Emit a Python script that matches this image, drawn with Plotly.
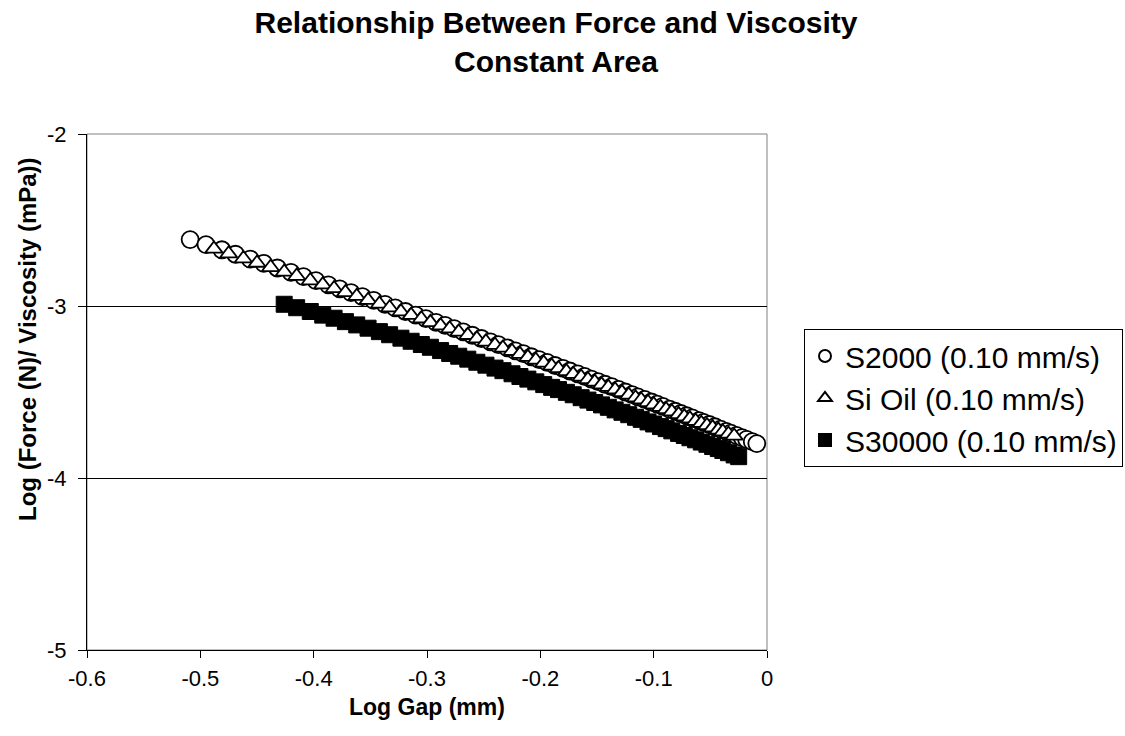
import plotly.graph_objects as go

# ---------------- data ----------------
s2000_x = [-0.509, -0.495, -0.481, -0.469, -0.456, -0.444, -0.432, -0.420, -0.409, -0.398,
           -0.387, -0.377, -0.367, -0.357, -0.347, -0.337, -0.328, -0.319, -0.310, -0.301,
           -0.292, -0.284, -0.276, -0.268, -0.260, -0.252, -0.244, -0.237, -0.229, -0.222,
           -0.215, -0.208, -0.201, -0.194, -0.187, -0.180, -0.174, -0.167, -0.161, -0.155,
           -0.149, -0.143, -0.137, -0.131, -0.125, -0.119, -0.114, -0.108, -0.102, -0.097,
           -0.092, -0.086, -0.081, -0.076, -0.071, -0.066, -0.060, -0.056, -0.051, -0.046,
           -0.041, -0.036, -0.032, -0.027, -0.022, -0.018, -0.013, -0.009]
s2000_y = [-2.614, -2.643, -2.673, -2.699, -2.727, -2.752, -2.779, -2.805, -2.829, -2.853,
           -2.877, -2.900, -2.922, -2.945, -2.967, -2.990, -3.011, -3.032, -3.053, -3.073,
           -3.095, -3.113, -3.132, -3.151, -3.170, -3.189, -3.208, -3.224, -3.244, -3.261,
           -3.277, -3.295, -3.312, -3.328, -3.346, -3.363, -3.378, -3.395, -3.409, -3.425,
           -3.440, -3.455, -3.469, -3.485, -3.500, -3.515, -3.528, -3.543, -3.558, -3.571,
           -3.584, -3.599, -3.612, -3.625, -3.638, -3.651, -3.666, -3.677, -3.689, -3.702,
           -3.716, -3.729, -3.739, -3.752, -3.765, -3.776, -3.789, -3.800]

sioil_x = [-0.488, -0.475, -0.462, -0.450, -0.438, -0.426, -0.415, -0.403, -0.392, -0.382,
           -0.372, -0.362, -0.352, -0.342, -0.333, -0.323, -0.314, -0.305, -0.297, -0.288,
           -0.280, -0.272, -0.264, -0.256, -0.248, -0.240, -0.233, -0.225, -0.218, -0.211,
           -0.204, -0.197, -0.190, -0.184, -0.177, -0.171, -0.164, -0.158, -0.152, -0.146,
           -0.140, -0.134, -0.128, -0.122, -0.116, -0.111, -0.105, -0.100, -0.094, -0.089,
           -0.084, -0.078, -0.073, -0.068, -0.063, -0.058, -0.053, -0.048, -0.043, -0.039,
           -0.034, -0.029]
sioil_y = [-2.668, -2.696, -2.724, -2.750, -2.775, -2.802, -2.826, -2.852, -2.876, -2.898,
           -2.921, -2.943, -2.966, -2.988, -3.010, -3.033, -3.053, -3.074, -3.095, -3.114,
           -3.132, -3.151, -3.170, -3.190, -3.208, -3.227, -3.244, -3.263, -3.280, -3.297,
           -3.314, -3.331, -3.348, -3.363, -3.380, -3.396, -3.412, -3.427, -3.442, -3.457,
           -3.472, -3.487, -3.502, -3.517, -3.533, -3.545, -3.560, -3.573, -3.588, -3.601,
           -3.614, -3.630, -3.643, -3.655, -3.669, -3.681, -3.694, -3.707, -3.720, -3.731,
           -3.744, -3.755]

s30000_x = [-0.426, -0.415, -0.403, -0.392, -0.382, -0.372, -0.362, -0.352, -0.342, -0.333,
            -0.323, -0.314, -0.305, -0.297, -0.288, -0.280, -0.272, -0.264, -0.256, -0.248,
            -0.240, -0.233, -0.225, -0.218, -0.211, -0.204, -0.197, -0.190, -0.184, -0.177,
            -0.171, -0.164, -0.158, -0.152, -0.146, -0.140, -0.134, -0.128, -0.122, -0.116,
            -0.111, -0.105, -0.100, -0.094, -0.089, -0.084, -0.078, -0.073, -0.068, -0.063,
            -0.058, -0.053, -0.048, -0.043, -0.039, -0.034, -0.029, -0.025]
s30000_y = [-2.990, -3.010, -3.032, -3.053, -3.071, -3.091, -3.110, -3.129, -3.149, -3.167,
            -3.187, -3.205, -3.224, -3.240, -3.259, -3.276, -3.292, -3.309, -3.327, -3.344,
            -3.361, -3.376, -3.394, -3.410, -3.425, -3.441, -3.457, -3.473, -3.486, -3.502,
            -3.516, -3.533, -3.547, -3.561, -3.575, -3.589, -3.604, -3.618, -3.632, -3.647,
            -3.659, -3.674, -3.686, -3.701, -3.713, -3.726, -3.741, -3.753, -3.766, -3.778,
            -3.791, -3.804, -3.817, -3.829, -3.840, -3.853, -3.866, -3.876]

series_names = ["S2000 (0.10 mm/s)", "Si Oil (0.10 mm/s)", "S30000 (0.10 mm/s)"]

x_tick_vals = [-0.6, -0.5, -0.4, -0.3, -0.2, -0.1, 0]
x_tick_text = ["-0.6", "-0.5", "-0.4", "-0.3", "-0.2", "-0.1", "0"]
y_tick_vals = [-5, -4, -3, -2]
y_tick_text = ["-5", "-4", "-3", "-2"]

FONT = "Arial, 'Liberation Sans', sans-serif"

# plot area in pixels: x 87..767, y 134..650
L, R, T, B = 87, 358, 134, 86
PW, PH = 1125 - L - R, 736 - T - B

fig = go.Figure()
fig.add_trace(go.Scatter(
    x=s2000_x, y=s2000_y, mode="markers", name=series_names[0],
    marker=dict(symbol="circle", size=17, color="white", line=dict(color="black", width=1.8)),
))
fig.add_trace(go.Scatter(
    x=sioil_x, y=sioil_y, mode="markers", name=series_names[1],
    marker=dict(symbol="triangle-up", size=15, color="white", line=dict(color="black", width=1.8)),
))
fig.add_trace(go.Scatter(
    x=s30000_x, y=s30000_y, mode="markers", name=series_names[2],
    marker=dict(symbol="square", size=16, color="black", line=dict(color="black", width=1)),
))

# plot-area border (gray) like Excel
fig.add_shape(type="rect", xref="paper", yref="paper", x0=0, y0=0, x1=1, y1=1,
              line=dict(color="#808080", width=1), layer="below")

fig.update_layout(
    width=1125, height=736,
    paper_bgcolor="white", plot_bgcolor="white",
    margin=dict(l=L, r=R, t=T, b=B, autoexpand=False),
    font=dict(family=FONT, color="black"),
    title=dict(
        text="<b>Relationship Between Force and Viscosity<br>Constant Area</b>",
        x=556 / 1125, xanchor="center", xref="container",
        y=1 - 33 / 736, yanchor="top", yref="container",
        font=dict(family=FONT, size=30, color="black"),
    ),
    showlegend=True,
    legend=dict(
        x=(804 - L) / PW, xanchor="left", y=(T + PH - 329) / PH, yanchor="top",
        bordercolor="black", borderwidth=1, bgcolor="white",
        font=dict(family=FONT, size=30, color="black"),
        itemsizing="constant",
    ),
    xaxis=dict(
        range=[-0.6, 0], tickvals=x_tick_vals, ticktext=x_tick_text,
        showgrid=False, zeroline=False,
        showline=True, linecolor="black", linewidth=1,
        ticks="outside", ticklen=7, tickcolor="black",
        ticklabelstandoff=2,
        tickfont=dict(family=FONT, size=22, color="black"),
    ),
    yaxis=dict(
        range=[-5, -2], tickvals=y_tick_vals, ticktext=y_tick_text,
        showgrid=True, gridcolor="black", gridwidth=1, zeroline=False,
        showline=True, linecolor="black", linewidth=1,
        ticks="outside", ticklen=8, tickcolor="black",
        ticklabelstandoff=7,
        tickfont=dict(family=FONT, size=22, color="black"),
    ),
    annotations=[
        dict(text="<b>Log Gap (mm)</b>", xref="paper", yref="paper",
             x=0.5, y=-(707 - (T + PH)) / PH, xanchor="center", yanchor="middle",
             showarrow=False, font=dict(family=FONT, size=23, color="black")),
        dict(text="<b>Log (Force (N)/ Viscosity (mPa))</b>", xref="paper", yref="paper",
             x=-(L - 27) / PW, y=(T + PH - 339) / PH, xanchor="center", yanchor="middle",
             textangle=-90, showarrow=False, font=dict(family=FONT, size=24, color="black")),
    ],
)

fig.write_html("out.html")
